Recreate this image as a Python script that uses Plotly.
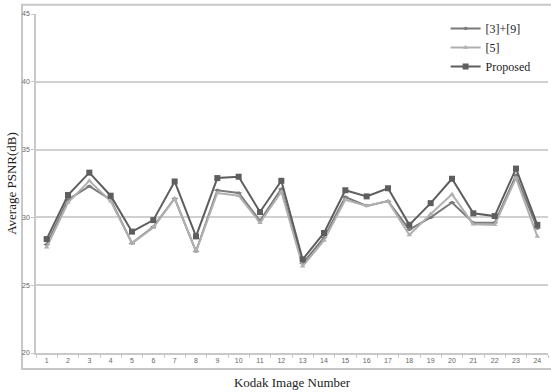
import plotly.graph_objects as go

images = list(range(1, 25))
tick_labels = [str(i) for i in images]
y_ticks = [20, 25, 30, 35, 40, 45]

psnr_3_9 = [28.0, 31.3, 32.3, 31.3, 28.1, 29.3, 31.4, 27.5, 32.0, 31.8, 29.75, 32.1,
            26.6, 28.5, 31.5, 30.85, 31.2, 29.1, 30.0, 31.1, 29.6, 29.6, 33.1, 29.2]
psnr_5 = [27.8, 31.1, 32.7, 31.2, 28.1, 29.25, 31.4, 27.5, 31.8, 31.6, 29.6, 31.9,
          26.4, 28.3, 31.3, 30.85, 31.2, 28.7, 30.25, 31.7, 29.5, 29.45, 32.9, 28.6]
psnr_proposed = [28.4, 31.65, 33.3, 31.6, 28.95, 29.8, 32.65, 28.6, 32.9, 33.0, 30.4, 32.7,
                 26.9, 28.85, 32.0, 31.55, 32.15, 29.45, 31.05, 32.85, 30.3, 30.1, 33.6, 29.45]

series = [
    ("[3]+[9]", psnr_3_9, "#7a7a7a", "diamond-wide", 5),
    ("[5]", psnr_5, "#b0b0b0", "triangle-up", 5),
    ("Proposed", psnr_proposed, "#5e5e5e", "square", 6),
]

fig = go.Figure()
for name, vals, color, sym, size in series:
    fig.add_trace(go.Scatter(
        x=images, y=vals, name=name, mode="lines+markers",
        line=dict(color=color, width=2),
        marker=dict(symbol=sym, size=size, color=color),
    ))

serif = "Liberation Serif, Times New Roman, serif"

fig.update_layout(
    width=551, height=392,
    margin=dict(l=36, r=3, t=14, b=39),
    paper_bgcolor="white", plot_bgcolor="white",
    font=dict(family=serif, color="#222222"),
    showlegend=True,
    legend=dict(x=0.80, y=1.0, xanchor="left", yanchor="top",
                bgcolor="rgba(0,0,0,0)", font=dict(size=12, family=serif, color="#222222"),
                itemwidth=30, tracegroupgap=0),
    xaxis=dict(
        range=[0.5, 24.5], tickmode="array", tickvals=images, ticktext=tick_labels,
        ticks="", showgrid=False, showline=True, linecolor="#c8c8c8", linewidth=1.5,
        tickfont=dict(size=7, family="Liberation Sans, Arial", color="#666666"),
        minor=dict(tick0=0.5, dtick=1, ticks="outside", ticklen=3, tickcolor="#c8c8c8", showgrid=False),
        title=dict(text="Kodak Image Number", font=dict(size=13, family=serif, color="#222222"), standoff=15),
        zeroline=False,
    ),
    yaxis=dict(
        range=[20, 45], tickmode="array", tickvals=y_ticks,
        ticks="outside", ticklen=3, tickcolor="#c8c8c8",
        showgrid=True, gridcolor="#d0d0d0", gridwidth=1.5,
        showline=True, linecolor="#c8c8c8", linewidth=1.5,
        tickfont=dict(size=7, family="Liberation Sans, Arial", color="#666666"),
        title=dict(text="Average PSNR(dB)", font=dict(size=13, family=serif, color="#222222"), standoff=3),
        zeroline=False,
    ),
    shapes=[dict(type="rect", xref="paper", yref="paper",
                 x0=-0.0273, x1=1.01, y0=-0.047, y1=1.027,
                 line=dict(color="#c8c8c8", width=2), layer="below")],
)

fig.write_html("out.html", config={"displayModeBar": False},
               post_script="document.body.style.margin='0';document.body.style.overflow='hidden';")
